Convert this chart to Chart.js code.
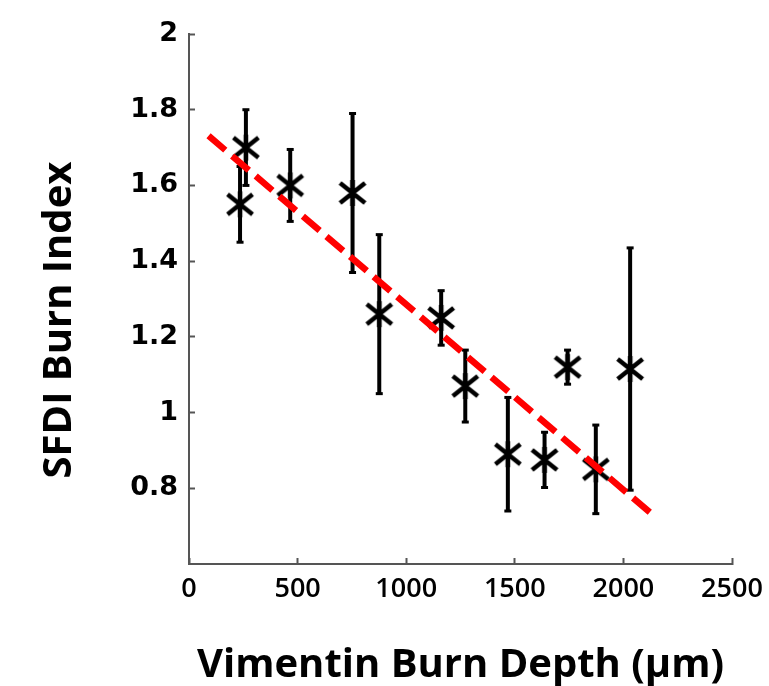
<!DOCTYPE html>
<html>
<head>
<meta charset="utf-8">
<script src="https://cdn.jsdelivr.net/npm/chart.js@4.4.1/dist/chart.umd.min.js"></script>
<style>
    html, body { margin: 0; padding: 0; background: #fff; }
    #wrap { width: 769px; height: 686px; }
</style>
</head>
<body>
<div id="wrap"><canvas id="burnChart"></canvas></div>
<script>
// measured points: vimentin depth (um) vs SFDI burn index, with +/- error
const depthUm   = [235, 262, 466, 753, 876, 1161, 1272, 1468, 1637, 1743, 1873, 2031];
const burnIndex = [1.55, 1.70, 1.60, 1.58, 1.26, 1.25, 1.07, 0.89, 0.875, 1.12, 0.85, 1.115];
const burnErr   = [0.10, 0.10, 0.095, 0.21, 0.21, 0.072, 0.095, 0.15, 0.073, 0.045, 0.117, 0.32];

// linear fit, end points
const fitX = [90, 2133];
const fitY = [1.731, 0.731];

const xTicks = [0, 500, 1000, 1500, 2000, 2500];
const yTicks = [0.8, 1, 1.2, 1.4, 1.6, 1.8, 2];

const xTitle = 'Vimentin Burn Depth (µm)';
const yTitle = 'SFDI Burn Index';

// matlab-ish '*' marker (6 spokes)
function makeAsterisk() {
    const c = document.createElement('canvas');
    c.width = 32; c.height = 32;
    const g = c.getContext('2d');
    g.strokeStyle = '#000';
    g.lineWidth = 4.5;
    g.beginPath();
    g.moveTo(3.5, 6);  g.lineTo(28.5, 26);
    g.moveTo(3.5, 26); g.lineTo(28.5, 6);
    g.moveTo(16, 3);   g.lineTo(16, 29);
    g.stroke();
    return c;
}

// y title sits a bit below the plot centre in the original, so draw it by hand
const yTitlePlugin = {
    id: 'yTitle',
    afterDraw(chart) {
        const { ctx, chartArea } = chart;
        ctx.save();
        ctx.translate(60, (chartArea.top + chartArea.bottom) / 2 + 21);
        ctx.rotate(-Math.PI / 2);
        ctx.font = 'bold 40px "Open Sans"';
        ctx.fillStyle = '#000';
        ctx.textAlign = 'center';
        ctx.textBaseline = 'middle';
        ctx.fillText(yTitle, 0, 0);
        ctx.restore();
    }
};

const errorSets = depthUm.map((x, i) => ({
    data: [{ x, y: burnIndex[i] - burnErr[i] }, { x, y: burnIndex[i] + burnErr[i] }],
    showLine: true,
    borderColor: '#000',
    borderWidth: 4,
    pointStyle: 'line',
    pointRadius: 3.5,
    pointBorderWidth: 3,
    pointBorderColor: '#000',
    order: 3
}));

const axisGrid = { drawOnChartArea: false, drawTicks: true, tickLength: -6, tickColor: '#555', tickWidth: 2 };
const axisBorder = { color: '#555', width: 2 };

new Chart(document.getElementById('burnChart'), {
    type: 'scatter',
    data: {
        datasets: [
            ...errorSets,
            {
                data: depthUm.map((x, i) => ({ x, y: burnIndex[i] })),
                pointStyle: makeAsterisk(),
                pointRadius: 16,
                order: 2
            },
            {
                data: fitX.map((x, i) => ({ x, y: fitY[i] })),
                showLine: true,
                borderColor: '#ff0000',
                borderWidth: 6.5,
                borderDash: [22, 9],
                pointRadius: 0,
                order: 1
            }
        ]
    },
    options: {
        responsive: true,
        maintainAspectRatio: false,
        animation: false,
        layout: { padding: { top: 34, right: 37, left: 0, bottom: 0 } },
        plugins: { legend: { display: false }, tooltip: { enabled: false } },
        scales: {
            x: {
                type: 'linear', min: 0, max: 2500,
                afterBuildTicks: s => { s.ticks = xTicks.map(v => ({ value: v })); },
                afterFit: s => { s.height = 122; },
                grid: axisGrid,
                border: axisBorder,
                ticks: {
                    color: '#000', padding: 6, maxRotation: 0,
                    font: { family: '"Open Sans"', size: 27, weight: '600', lineHeight: 1.85 },
                    callback: v => String(v)
                },
                title: {
                    display: true, text: xTitle, color: '#000',
                    font: { family: '"Open Sans"', size: 40, weight: 'bold', lineHeight: 1.0 },
                    padding: { top: 0, bottom: 0 }
                }
            },
            y: {
                type: 'linear', min: 0.6, max: 2,
                afterBuildTicks: s => { s.ticks = yTicks.map(v => ({ value: v })); },
                afterFit: s => { s.width = 189; },
                grid: axisGrid,
                border: axisBorder,
                ticks: {
                    color: '#000', padding: 17,
                    font: { family: '"DejaVu Sans"', size: 27, weight: 'bold' },
                    callback: v => String(v)
                },
                title: { display: false }
            }
        }
    },
    plugins: [yTitlePlugin]
});
</script>
</body>
</html>
